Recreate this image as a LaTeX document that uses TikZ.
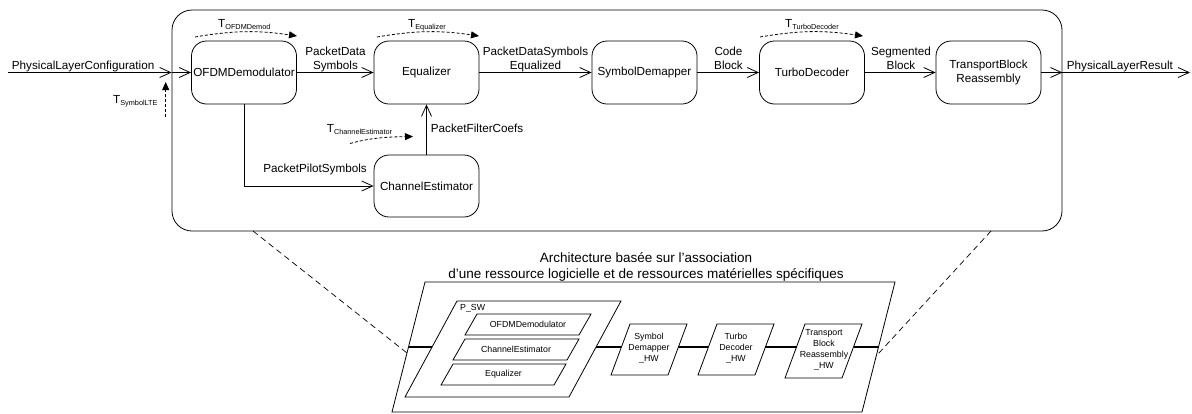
\documentclass[tikz,border=0pt]{standalone}
\usepackage{fontspec}
\setmainfont{Liberation Sans}
\usetikzlibrary{arrows.meta,calc}
\newcommand\Tsub[1]{T\raisebox{-2pt}{\fontsize{7.3}{8}\selectfont #1}}
\begin{document}
\begin{tikzpicture}[x=1pt,y=-1pt,
  every node/.style={font=\fontsize{11.7}{14}\selectfont, inner sep=0pt},
  frame/.style={draw, line width=0.8pt, rounded corners=20pt, minimum width=890pt, minimum height=221pt},
  blk/.style={draw, line width=0.8pt, rounded corners=15pt, minimum width=105pt, minimum height=63pt, align=center},
  flow/.style={line width=0.8pt, -{Straight Barb[length=11pt,width=10pt,line width=0.8pt]}},
  tarr/.style={line width=0.8pt, dash pattern=on 3pt off 2pt, -{Triangle[length=8pt,width=7pt]}},
  mapline/.style={line width=0.7pt, dash pattern=on 6pt off 4pt},
  para/.style={line width=0.8pt},
  bus/.style={line width=1.8pt},
  small/.style={font=\fontsize{8.8}{11}\selectfont, align=center},
  title/.style={font=\fontsize{13.5}{16.5}\selectfont, align=center}
]
\useasboundingbox (0,0) rectangle (1192,413);

% ---------- upper part ----------
\node[frame] (frame) at (617,120.5) {};

\node[blk] (ofdm) at (244,72.5) {OFDMDemodulator};
\node[blk] (eq) at (426.5,72.5) {Equalizer};
\node[blk] (sd) at (644.5,72.5) {SymbolDemapper};
\node[blk] (td) at (812,72.5) {TurboDecoder};
\node[blk] (tb) at (988.5,72.5) {TransportBlock\\Reassembly};
\node[blk, minimum height=62pt] (ce) at (426.5,186) {ChannelEstimator};

\coordinate (in) at (8,72.5);
\coordinate (out) at (1190,72.5);

\draw[flow] (in) -- (in -| frame.west);
\draw[flow] (in -| frame.west) -- (ofdm.west);
\draw[flow] (ofdm) -- (eq);
\draw[flow] (eq) -- (sd);
\draw[flow] (sd) -- (td);
\draw[flow] (td) -- (tb);
\draw[flow] (tb.east) -- (out -| frame.east);
\draw[flow] (out -| frame.east) -- (out);
\draw[flow] (ofdm.south) -- (ofdm.south |- ce.west) -- (ce.west);
\draw[flow] (ce.north) -- (eq.south);

\node[anchor=base west] (lin) at (11.7,69) {PhysicalLayerConfiguration};
\node[anchor=base west] (lout) at (1066.7,69.7) {PhysicalLayerResult};
\node[anchor=north, align=center] (l1) at (335.5,47) {PacketData\\Symbols};
\node[anchor=north, align=center] (l2) at (535.5,46.5) {PacketDataSymbols\\Equalized};
\node[anchor=north, align=center] (l3) at (728.5,46.5) {Code\\Block};
\node[anchor=north, align=center] (l4) at (901,47) {Segmented\\Block};
\node[anchor=base east] (l5) at (367,172.3) {PacketPilotSymbols};
\node[anchor=base west] (l6) at (430.7,132.3) {PacketFilterCoefs};

% timing labels
\node[anchor=base west] (t1) at (218,27.5) {\Tsub{OFDMDemod}};
\node[anchor=base west] (t2) at (408,27.5) {\Tsub{Equalizer}};
\node[anchor=base west] (t3) at (785,27.5) {\Tsub{TurboDecoder}};
\node[anchor=base west] (t4) at (326.7,132.5) {\Tsub{ChannelEstimator}};
\node[anchor=base west] (t5) at (113,103.5) {\Tsub{SymbolLTE}};

\coordinate (a1s) at (195,37);   \coordinate (a1e) at (297,36);
\coordinate (a2s) at (377,37);   \coordinate (a2e) at (479,36);
\coordinate (a3s) at (760,37);   \coordinate (a3e) at (863,36);
\coordinate (a4s) at (350,143.5);  \coordinate (a4e) at (413,136.5);
\coordinate (a5s) at (165.7,116.5); \coordinate (a5e) at (165.7,82);
\draw[tarr] (a1s) to[bend left=9] (a1e);
\draw[tarr] (a2s) to[bend left=9] (a2e);
\draw[tarr] (a3s) to[bend left=9] (a3e);
\draw[tarr] (a4s) .. controls (370,138) and (385,137) .. (a4e);
\draw[tarr] (a5s) -- (a5e);

% ---------- lower part ----------
\node[title, anchor=north] (ttl) at (646,252) {Architecture basée sur l'association\\d'une ressource logicielle et de ressources matérielles spécifiques};

% outer parallelogram
\coordinate (o1) at (425,282); \coordinate (o2) at (895,282);
\coordinate (o3) at (862,412); \coordinate (o4) at (392,412);
\draw[para] (o1) -- (o2) -- (o3) -- (o4) -- cycle;

% P_SW
\coordinate (p1) at (457,301); \coordinate (p2) at (621,301);
\coordinate (p3) at (569,397); \coordinate (p4) at (405,397);
\draw[para] (p1) -- (p2) -- (p3) -- (p4) -- cycle;
\node[font=\fontsize{8.8}{11}\selectfont, anchor=base west] (psw) at (460,310) {P\_SW};

\draw[para] (477,314) -- (591,314) -- (579,335) -- (465,335) -- cycle;
\node[small] (swofdm) at (528,324.5) {OFDMDemodulator};
\draw[para] (465,339) -- (579,339) -- (567,360) -- (453,360) -- cycle;
\node[small] (swce) at (516,349.5) {ChannelEstimator};
\draw[para] (453,364) -- (566,364) -- (554,385) -- (441,385) -- cycle;
\node[small] (sweq) at (503.5,374.5) {Equalizer};

% HW blocks
\draw[para] (630,324) -- (687,324) -- (668,375) -- (611,375) -- cycle;
\node[small] (hwsd) at (649,348) {Symbol\\Demapper\\\_HW};
\draw[para] (717,324) -- (774,324) -- (755,375) -- (698,375) -- cycle;
\node[small] (hwtd) at (736,348) {Turbo\\Decoder\\\_HW};
\draw[para] (805,324) -- (862,324) -- (842,378) -- (785,378) -- cycle;
\node[small] (hwtb) at (824,350) {Transport\\Block\\Reassembly\\\_HW};

% bus segments
\coordinate (b0) at (408.5,347); \coordinate (b1) at (432.1,347);
\coordinate (b2) at (596.1,347); \coordinate (b3) at (621.4,347);
\coordinate (b4) at (678.4,347); \coordinate (b5) at (708.4,347);
\coordinate (b6) at (765.4,347); \coordinate (b7) at (796.5,347);
\coordinate (b8) at (853.5,347); \coordinate (b9) at (878.5,347);
\draw[bus] (b0) -- (b1);
\draw[bus] (b2) -- (b3);
\draw[bus] (b4) -- (b5);
\draw[bus] (b6) -- (b7);
\draw[bus] (b8) -- (b9);

% mapping lines
\coordinate (m1) at (253,231); \coordinate (m2) at (407,353);
\coordinate (m3) at (991,231); \coordinate (m4) at (876.2,356);
\draw[mapline] (m1) -- (m2);
\draw[mapline] (m3) -- (m4);
\end{tikzpicture}
\end{document}
